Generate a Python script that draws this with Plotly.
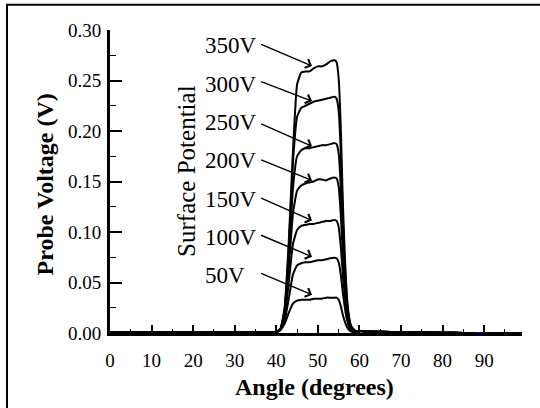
import plotly.graph_objects as go

# ---------------- data ----------------
angles = [0, 5, 10, 15, 20, 25, 30, 35, 38, 40, 41, 42, 43, 44, 45, 46, 47, 48, 49, 50,
          51, 52, 53, 54, 54.5, 55, 55.5, 56, 56.5, 57, 57.5, 58, 59, 60, 62, 65, 70,
          75, 80, 85, 90, 95, 99]

v350 = [0.0005, 0.001, 0.0005, 0.001, 0.0005, 0.001, 0.0005, 0.001, 0.001, 0.001,
        0.004, 0.025, 0.09, 0.18, 0.246, 0.258, 0.259, 0.259, 0.262, 0.264, 0.264, 0.266, 0.269, 0.27,
        0.268, 0.252, 0.205, 0.13, 0.075, 0.035, 0.016, 0.007,
        0.002, 0.002, 0.0015, 0.0012, 0.001, 0.0006, 0.0003, 0, 0, 0, 0]
v300 = [0.0005, 0.001, 0.0005, 0.001, 0.0005, 0.001, 0.0005, 0.001, 0.001, 0.001,
        0.004, 0.023, 0.084, 0.168, 0.214, 0.223, 0.225, 0.227, 0.229, 0.230, 0.231, 0.232, 0.233, 0.234,
        0.232, 0.22, 0.18, 0.115, 0.066, 0.032, 0.015, 0.0065,
        0.002, 0.002, 0.0015, 0.0012, 0.001, 0.0006, 0.0003, 0, 0, 0, 0]
v250 = [0.0005, 0.001, 0.0005, 0.001, 0.0005, 0.001, 0.0005, 0.001, 0.001, 0.001,
        0.004, 0.021, 0.075, 0.143, 0.175, 0.181, 0.183, 0.183, 0.184, 0.185, 0.186, 0.186, 0.187, 0.188,
        0.187, 0.178, 0.145, 0.094, 0.056, 0.028, 0.013, 0.006,
        0.002, 0.002, 0.0015, 0.0012, 0.001, 0.0006, 0.0003, 0, 0, 0, 0]
v200 = [0.0005, 0.001, 0.0005, 0.001, 0.0005, 0.001, 0.0005, 0.001, 0.001, 0.001,
        0.004, 0.019, 0.064, 0.118, 0.141, 0.146, 0.148, 0.149, 0.150, 0.152, 0.152, 0.151, 0.153, 0.154,
        0.153, 0.145, 0.118, 0.078, 0.047, 0.024, 0.011, 0.005,
        0.002, 0.002, 0.0015, 0.0012, 0.001, 0.0006, 0.0003, 0, 0, 0, 0]
v150 = [0.0005, 0.001, 0.0005, 0.001, 0.0005, 0.001, 0.0005, 0.001, 0.001, 0.001,
        0.004, 0.016, 0.05, 0.088, 0.102, 0.106, 0.107, 0.108, 0.108, 0.109, 0.110, 0.111, 0.111, 0.112,
        0.111, 0.105, 0.086, 0.058, 0.036, 0.019, 0.009, 0.004,
        0.0015, 0.002, 0.0015, 0.0012, 0.001, 0.0006, 0.0003, 0, 0, 0, 0]
v100 = [0.0005, 0.001, 0.0005, 0.001, 0.0005, 0.001, 0.0005, 0.001, 0.001, 0.001,
        0.003, 0.012, 0.034, 0.058, 0.067, 0.069, 0.070, 0.070, 0.071, 0.072, 0.072, 0.073, 0.074, 0.0745,
        0.074, 0.07, 0.058, 0.04, 0.025, 0.013, 0.006, 0.003,
        0.001, 0.002, 0.0015, 0.0012, 0.001, 0.0006, 0.0003, 0, 0, 0, 0]
v50 = [0.0005, 0.001, 0.0005, 0.001, 0.0005, 0.001, 0.0005, 0.001, 0.001, 0.001,
       0.003, 0.009, 0.02, 0.029, 0.032, 0.033, 0.033, 0.033, 0.034, 0.034, 0.034, 0.035, 0.035, 0.035,
       0.035, 0.033, 0.027, 0.018, 0.011, 0.006, 0.003, 0.0015,
       0.001, 0.002, 0.0015, 0.0012, 0.001, 0.0006, 0.0003, 0, 0, 0, 0]

series = [v350, v300, v250, v200, v150, v100, v50]

# short blue trace lying on the baseline near 90 degrees
blue_angles = [87.8, 90.2]
blue_values = [0, 0]

# labels and arrows
label_names = ["350V", "300V", "250V", "200V", "150V", "100V", "50V"]
label_x = 22.4
label_y = [0.2843, 0.2465, 0.2087, 0.1705, 0.1322, 0.0944, 0.0572]
tail_x = 36.0
tail_y = [0.2863, 0.2495, 0.2077, 0.1720, 0.1342, 0.0974, 0.0596]
tip_x = 48.6
tip_y = [0.2644, 0.2296, 0.1849, 0.1511, 0.1113, 0.0755, 0.0378]

x_ticks = [0, 10, 20, 30, 40, 50, 60, 70, 80, 90]
y_ticks = [0.00, 0.05, 0.10, 0.15, 0.20, 0.25, 0.30]

SERIF = "Liberation Serif, Times New Roman, serif"

fig = go.Figure()
for vals, name in zip(series, label_names):
    fig.add_trace(go.Scatter(x=angles, y=vals, mode="lines", name=name,
                             line=dict(color="black", width=2, shape="spline", smoothing=0.4),
                             showlegend=False, hoverinfo="skip"))
fig.add_trace(go.Scatter(x=blue_angles, y=blue_values, mode="lines",
                         line=dict(color="#0000ff", width=2), showlegend=False, hoverinfo="skip"))

annotations = []
for name, ly, ty, hy in zip(label_names, label_y, tail_y, tip_y):
    annotations.append(dict(x=label_x, y=ly, xref="x", yref="y", text=name, showarrow=False,
                            xanchor="left", yanchor="middle",
                            font=dict(family=SERIF, size=23, color="black")))
    annotations.append(dict(x=tip_x, y=hy, xref="x", yref="y", ax=tail_x, ay=ty,
                            axref="x", ayref="y", text="", showarrow=True,
                            arrowhead=4, arrowsize=1.3, arrowwidth=1.4, arrowcolor="black"))

annotations.append(dict(x=18.4, y=0.160, xref="x", yref="y", text="Surface Potential",
                        textangle=-90, showarrow=False, xanchor="center", yanchor="middle",
                        font=dict(family=SERIF, size=25, color="black")))
annotations.append(dict(x=0.497, y=-0.178, xref="paper", yref="paper", text="<b>Angle (degrees)</b>",
                        showarrow=False, xanchor="center", yanchor="middle",
                        font=dict(family=SERIF, size=24, color="black")))
annotations.append(dict(x=-0.158, y=0.49, xref="paper", yref="paper", text="<b>Probe Voltage (V)</b>",
                        textangle=-90, showarrow=False, xanchor="center", yanchor="middle",
                        font=dict(family=SERIF, size=24, color="black")))

fig.update_layout(
    width=540, height=408,
    margin=dict(l=110, r=18, t=30, b=75),
    paper_bgcolor="white", plot_bgcolor="white",
    font=dict(family=SERIF, size=19, color="black"),
    annotations=annotations,
    shapes=[dict(type="rect", xref="paper", yref="paper",
                 x0=-0.25, x1=1.06, y0=-0.27, y1=1.083,
                 line=dict(color="black", width=2), fillcolor="rgba(0,0,0,0)", layer="below")],
    xaxis=dict(range=[0, 99.1], tickvals=x_ticks, ticks="inside", ticklen=8, tickwidth=1.5,
               tickcolor="black", showline=True, linecolor="black", linewidth=3,
               showgrid=False, zeroline=False, layer="below traces",
               minor=dict(dtick=5, tick0=0, ticks="inside", ticklen=4, tickwidth=1.2, tickcolor="black"),
               tickfont=dict(family=SERIF, size=19, color="black"), ticklabelstandoff=8),
    yaxis=dict(range=[0, 0.30], tickvals=y_ticks, tickformat=".2f", ticks="inside", ticklen=12,
               tickwidth=1.8, tickcolor="black", showline=True, linecolor="black", linewidth=3,
               showgrid=False, zeroline=False, layer="below traces",
               minor=dict(dtick=0.025, tick0=0, ticks="inside", ticklen=6, tickwidth=1.2, tickcolor="black"),
               tickfont=dict(family=SERIF, size=19, color="black"), ticklabelstandoff=2),
)

fig.write_html("out.html", config={"displayModeBar": False},
               post_script="document.body.style.margin='0';document.body.style.overflow='hidden';")
